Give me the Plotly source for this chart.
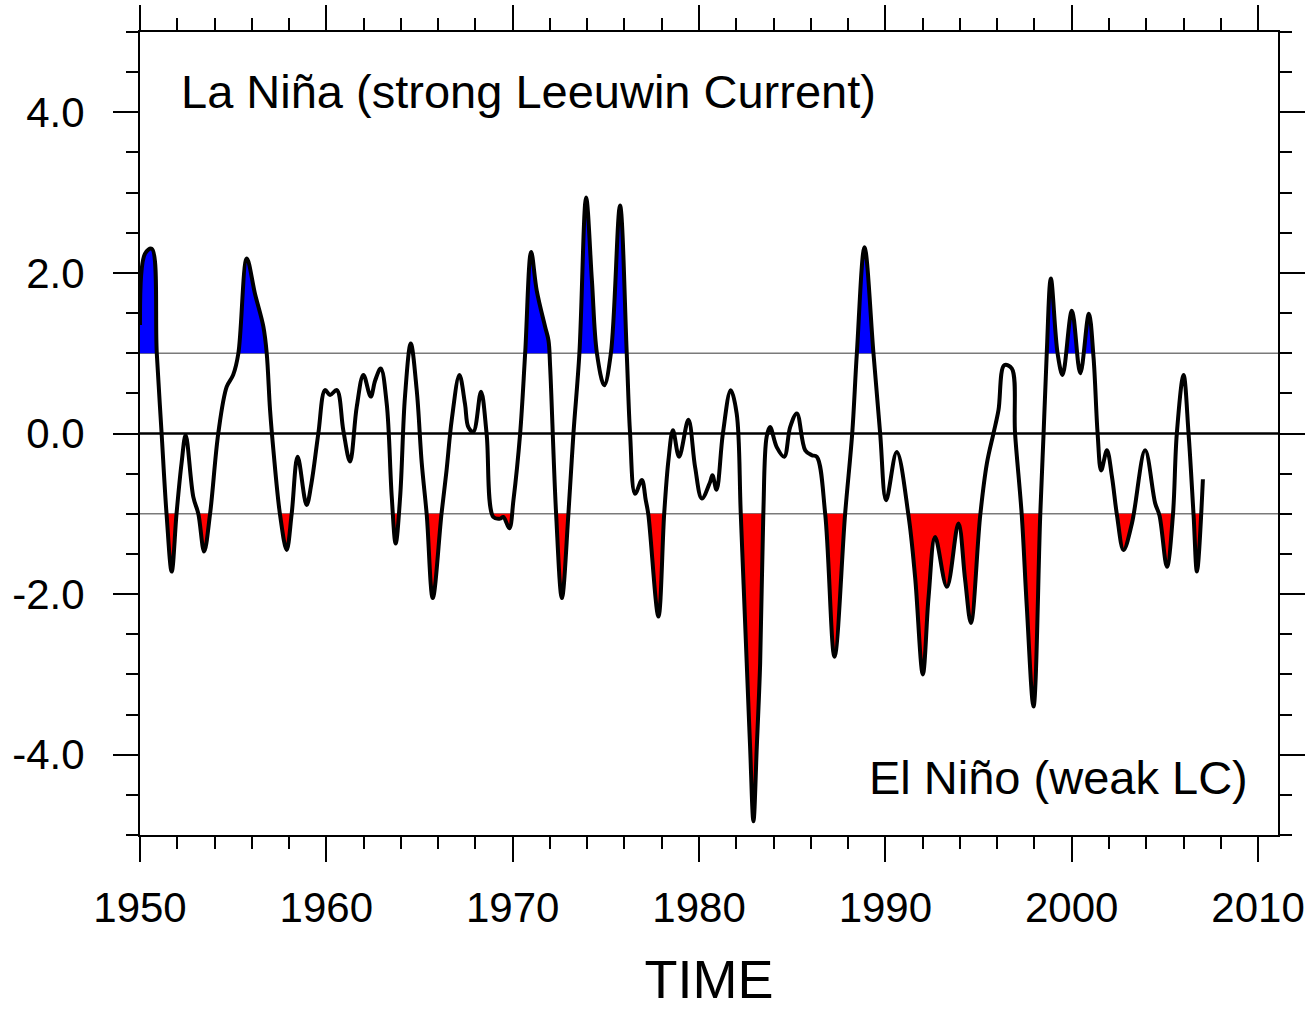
import plotly.graph_objects as go

# Smoothed index time series (decimal year, index value)
years = [
    1950.00, 1950.27, 1950.63, 1950.90, 1951.16, 1951.43, 1951.70, 1951.96, 1952.23, 1952.45,
    1952.86, 1953.13, 1953.44, 1953.76, 1954.20, 1954.65, 1955.00, 1955.28, 1955.73, 1956.17,
    1956.62, 1956.80, 1956.98, 1957.16, 1957.52, 1957.87, 1958.14, 1958.46, 1958.94, 1959.20,
    1959.57, 1959.93, 1960.20, 1960.56, 1960.91, 1961.27, 1961.63, 1961.99, 1962.38, 1962.62,
    1962.92, 1963.24, 1963.51, 1963.72, 1963.96, 1964.22, 1964.53, 1964.85, 1965.12, 1965.39,
    1965.71, 1966.18, 1966.45, 1966.73, 1967.14, 1967.44, 1967.62, 1967.89, 1968.30, 1968.60,
    1968.96, 1969.32, 1969.50, 1969.82, 1970.04, 1970.40, 1970.67, 1970.99, 1971.29, 1971.74,
    1971.92, 1972.01, 1972.33, 1972.64, 1972.99, 1973.26, 1973.58, 1973.94, 1974.25, 1974.52,
    1974.91, 1975.27, 1975.76, 1976.12, 1976.30, 1976.57, 1976.93, 1977.14, 1977.28, 1977.82,
    1978.13, 1978.36, 1978.60, 1978.93, 1979.43, 1979.79, 1980.15, 1980.60, 1980.72, 1980.94,
    1981.28, 1981.70, 1982.02, 1982.24, 1982.56, 1982.74, 1982.92, 1983.10, 1983.28, 1983.45,
    1983.63, 1983.81, 1984.17, 1984.57, 1984.89, 1985.25, 1985.70, 1986.05, 1986.32, 1986.77,
    1987.27, 1987.84, 1988.22, 1988.47, 1988.88, 1989.36, 1989.72, 1990.04, 1990.61, 1991.24,
    1991.60, 1992.01, 1992.32, 1992.67, 1993.30, 1993.92, 1994.28, 1994.59, 1995.09, 1995.45,
    1995.80, 1996.07, 1996.38, 1996.78, 1996.96, 1997.32, 1997.59, 1997.95, 1998.31, 1998.49,
    1998.66, 1998.88, 1999.24, 1999.51, 2000.01, 2000.46, 2000.92, 2001.17, 2001.39, 2001.58,
    2001.89, 2002.16, 2002.43, 2002.78, 2003.23, 2003.94, 2004.48, 2004.71, 2005.11, 2005.43,
    2005.64, 2006.00, 2006.27, 2006.54, 2006.72, 2007.04,
]
index_values = [
    1.35, 2.24, 2.30, 1.00, 0.00, -1.02, -1.72, -1.00, -0.37, -0.02,
    -0.79, -1.00, -1.47, -1.00, 0.00, 0.58, 0.73, 1.00, 2.18, 1.74,
    1.33, 1.00, 0.29, -0.21, -1.02, -1.45, -1.00, -0.29, -0.89, -0.62,
    0.00, 0.54, 0.48, 0.54, 0.04, -0.35, 0.33, 0.73, 0.46, 0.66,
    0.81, 0.37, -0.79, -1.37, -0.79, 0.46, 1.12, 0.54, -0.37, -1.02,
    -2.05, -1.00, -0.46, 0.17, 0.73, 0.37, 0.08, 0.02, 0.52, 0.00,
    -1.04, -1.06, -1.04, -1.18, -0.83, 0.00, 1.00, 2.26, 1.78, 1.33,
    1.16, 0.83, -1.00, -2.05, -1.00, 0.00, 1.00, 2.94, 1.91, 1.00,
    0.60, 1.00, 2.84, 1.00, 0.00, -0.75, -0.58, -0.83, -1.01, -2.28,
    -1.00, -0.33, 0.04, -0.29, 0.17, -0.42, -0.81, -0.60, -0.52, -0.70,
    0.00, 0.54, 0.25, -1.00, -2.86, -3.90, -4.83, -3.90, -2.86, -1.00,
    -0.04, 0.08, -0.17, -0.29, 0.08, 0.25, -0.21, -0.27, -0.29, -1.00,
    -2.78, -1.00, 0.00, 1.00, 2.32, 1.00, 0.00, -0.83, -0.23, -1.02,
    -1.80, -3.00, -2.03, -1.29, -1.91, -1.12, -1.82, -2.36, -1.02, -0.37,
    0.00, 0.29, 0.85, 0.81, 0.00, -1.02, -2.16, -3.40, -1.02, 0.00,
    1.00, 1.93, 1.00, 0.73, 1.53, 0.75, 1.49, 0.95, 0.00, -0.46,
    -0.21, -0.54, -1.02, -1.45, -1.12, -0.21, -0.87, -1.02, -1.66, -1.02,
    0.00, 0.73, 0.00, -1.02, -1.72, -0.57,
]

upper_threshold = 1.0
lower_threshold = -1.0

x_tick_values = [1950, 1960, 1970, 1980, 1990, 2000, 2010]
x_tick_labels = ["1950", "1960", "1970", "1980", "1990", "2000", "2010"]
y_tick_values = [-4, -2, 0, 2, 4]
y_tick_labels = ["-4.0", "-2.0", "0.0", "2.0", "4.0"]

label_nina = "La Niña (strong Leeuwin Current)"
label_nino = "El Niño (weak LC)"

FONT = "Liberation Sans, Arial, Helvetica, sans-serif"


def excursions(xs, ys, thr, above):
    """Split the series into closed polygons where it lies beyond a threshold."""
    def beyond(v):
        return v >= thr if above else v <= thr

    polys = []
    i, n = 0, len(xs)
    while i < n:
        if not beyond(ys[i]):
            i += 1
            continue
        j = i
        while j + 1 < n and beyond(ys[j + 1]):
            j += 1
        px, py = [], []
        if i > 0 and ys[i] != thr:
            t = (thr - ys[i - 1]) / (ys[i] - ys[i - 1])
            px.append(xs[i - 1] + t * (xs[i] - xs[i - 1]))
            py.append(thr)
        elif i == 0:
            px.append(xs[0])
            py.append(thr)
        px += xs[i:j + 1]
        py += ys[i:j + 1]
        if j < n - 1 and ys[j] != thr:
            t = (thr - ys[j]) / (ys[j + 1] - ys[j])
            px.append(xs[j] + t * (xs[j + 1] - xs[j]))
            py.append(thr)
        elif j == n - 1:
            px.append(xs[-1])
            py.append(thr)
        polys.append((px, py))
        i = j + 1
    return polys


fig = go.Figure()

for thr, above, color in [(upper_threshold, True, "#0000ff"),
                          (lower_threshold, False, "#ff0000")]:
    for px, py in excursions(years, index_values, thr, above):
        fig.add_trace(go.Scatter(
            x=px, y=py, mode="lines", fill="toself", fillcolor=color,
            line=dict(width=0, shape="spline", color=color),
            hoverinfo="skip", showlegend=False,
        ))

fig.add_trace(go.Scatter(
    x=years, y=index_values, mode="lines",
    line=dict(color="black", width=4, shape="spline", smoothing=1),
    showlegend=False,
))

# reference levels
for level, color, width in [(upper_threshold, "#7a7a7a", 1.5),
                            (lower_threshold, "#7a7a7a", 1.5),
                            (0, "black", 2.5)]:
    fig.add_shape(type="line", xref="paper", x0=0, x1=1, yref="y",
                  y0=level, y1=level, line=dict(color=color, width=width),
                  layer="below")

fig.add_annotation(text=label_nina, xref="paper", yref="paper",
                   x=0.034, y=0.926, xanchor="left", yanchor="middle",
                   showarrow=False, font=dict(family=FONT, size=47, color="black"))
fig.add_annotation(text=label_nino, xref="paper", yref="paper",
                   x=0.9755, y=0.071, xanchor="right", yanchor="middle",
                   showarrow=False, font=dict(family=FONT, size=47, color="black"))

axis_common = dict(
    showline=True, linecolor="black", linewidth=2, mirror="ticks",
    ticks="outside", ticklen=25, tickwidth=2, tickcolor="black",
    showgrid=False, zeroline=False, automargin=False,
    tickfont=dict(family=FONT, size=42, color="black"),
)

fig.update_xaxes(
    range=[1950, 2011.07], tickmode="array",
    tickvals=x_tick_values, ticktext=x_tick_labels,
    minor=dict(tick0=1950, dtick=2, ticks="outside", ticklen=12,
               tickwidth=1.5, tickcolor="black"),
    ticklabelstandoff=10,
    title=dict(text="TIME", font=dict(family=FONT, size=54, color="black"),
               standoff=55),
    **axis_common,
)
fig.update_yaxes(
    range=[-5, 5], tickmode="array",
    tickvals=y_tick_values, ticktext=y_tick_labels,
    minor=dict(tick0=0, dtick=0.5, ticks="outside", ticklen=12,
               tickwidth=1.5, tickcolor="black"),
    ticklabelstandoff=20,
    **axis_common,
)

fig.update_layout(
    width=1310, height=1009,
    margin=dict(l=140, r=32, t=32, b=174, autoexpand=False),
    paper_bgcolor="white", plot_bgcolor="white",
    font=dict(family=FONT, color="black"),
)

fig.write_html("out.html")
